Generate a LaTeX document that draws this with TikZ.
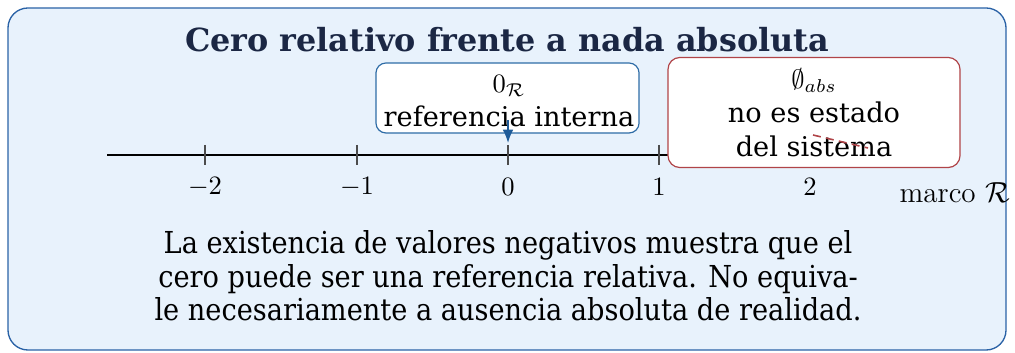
\documentclass[tikz,border=0pt]{standalone}
\usepackage{fontspec}
\newfontfamily\dvs{DejaVu Serif}
\newfontfamily\dvsc{DejaVu Serif Condensed}
\usetikzlibrary{arrows.meta}
\definecolor{bgc}{HTML}{E8F2FC}
\definecolor{framec}{HTML}{2A62A6}
\definecolor{bluec}{HTML}{2E6CA6}
\definecolor{redc}{HTML}{B04448}
\definecolor{arrowc}{HTML}{1F5C99}
\definecolor{titlec}{HTML}{1B2744}
\tikzset{
  frame/.style={draw=framec, fill=bgc, line width=0.5pt, rounded corners=7.5pt},
  refbox/.style={draw=bluec, fill=white, line width=0.45pt, rounded corners=3.8pt, inner sep=0pt,
     minimum width=99.2pt, minimum height=26.4pt},
  boxtext/.style={align=center, inner sep=0pt, font=\dvs\fontsize{10.25}{12.8}\selectfont},
  absbox/.style={draw=redc, fill=white, line width=0.45pt, rounded corners=4.5pt, align=center, inner sep=0pt,
     minimum width=110.1pt, minimum height=41.5pt, font=\dvs\fontsize{10.25}{12.8}\selectfont},
  axisline/.style={line width=0.9pt, black},
  tickline/.style={line width=0.4pt, black!70},
  ticklab/.style={font=\fontsize{10}{12}\selectfont, inner sep=0pt},
  ptr/.style={arrowc, line width=0.6pt, -{Latex[length=5pt,width=4pt]}},
  strike/.style={redc, line width=0.6pt, dash pattern=on 3pt off 2pt},
}
\begin{document}
\begin{tikzpicture}[x=0.377pt,y=-0.377pt]
\useasboundingbox (0,0) rectangle (1015,353);
\draw[frame] (8,8) rectangle (1006,350);
\node[font=\dvs\bfseries\fontsize{12}{14}\selectfont, text=titlec] (title) at (507,40) {Cero relativo frente a nada absoluta};
\coordinate (axL) at (107,155);
\coordinate (axR) at (960,155);
\draw[axisline] (axL) -- (axR);
\foreach \v/\px in {-2/205,-1/357,0/508,1/659,2/810}{
  \coordinate (tt\v) at (\px,145);
  \coordinate (tb\v) at (\px,165);
  \draw[tickline] (tt\v) -- (tb\v);
  \node[ticklab] (lab\v) at (\px,187) {$\v$};
}
\node[refbox] (zero) at (507.5,98) {};
\node[boxtext] (zerotext) at (509,101) {$0_{\mathcal{R}}$\\referencia interna};
\coordinate (arrS) at (508,120);
\coordinate (arrE) at (508,143);
\draw[ptr] (arrS) -- (arrE);
\node[absbox] (abs) at (814,112.5) {$\emptyset_{abs}$\\no es estado\\del sistema};
\coordinate (stA) at (813,135);
\coordinate (stB) at (868,148);
\draw[strike] (stA) -- (stB);
\node[anchor=west, font=\fontsize{11}{13}\selectfont, inner sep=0pt] (marco) at (899,193) {marco $\mathcal{R}$};
\node[align=center, font=\dvsc\fontsize{11.4}{12.6}\selectfont] (body) at (508,276) {La existencia de valores negativos muestra que el\\cero puede ser una referencia relativa. No equiva-\\le necesariamente a ausencia absoluta de realidad.};
\end{tikzpicture}
\end{document}
